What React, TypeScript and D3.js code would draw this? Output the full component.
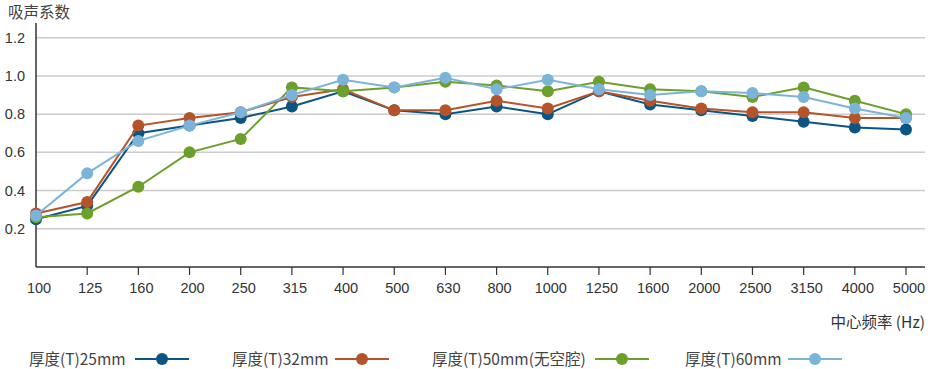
import React from "react";
import * as d3 from "d3";

const categories = ["100","125","160","200","250","315","400","500","630","800","1000","1250","1600","2000","2500","3150","4000","5000"];
const s25 = [0.25,0.32,0.70,0.74,0.78,0.84,0.92,0.82,0.80,0.84,0.80,0.92,0.85,0.82,0.79,0.76,0.73,0.72];
const s32 = [0.28,0.34,0.74,0.78,0.81,0.89,0.93,0.82,0.82,0.87,0.83,0.92,0.87,0.83,0.81,0.81,0.78,0.78];
const s50 = [0.26,0.28,0.42,0.60,0.67,0.94,0.92,0.94,0.97,0.95,0.92,0.97,0.93,0.92,0.89,0.94,0.87,0.80];
const s60 = [0.27,0.49,0.66,0.74,0.81,0.90,0.98,0.94,0.99,0.93,0.98,0.93,0.90,0.92,0.91,0.89,0.83,0.78];
const yTicks = [0.2,0.4,0.6,0.8,1.0,1.2];
const seriesNames = ["厚度(T)25mm","厚度(T)32mm","厚度(T)50mm(无空腔)","厚度(T)60mm"];
const colors = ["#0b5583","#b5532b","#6c9f2b","#7cb4d9"];
const seriesData = [s25, s32, s50, s60];

export default function App() {
  const W = 937, H = 369;
  const x0 = 36, x1 = 906, yTop = 37.7, yBot = 267;
  const x = d3.scalePoint<string>().domain(categories).range([x0, x1]);
  const y = d3.scaleLinear().domain([0, 1.2]).range([yBot, yTop]);
  const line = d3.line<number>().x((_, i) => x(categories[i])!).y(d => y(d));
  const numFont = "'Liberation Sans', Arial, sans-serif";
  const cjkFont = "'Noto Sans CJK SC', 'Noto Sans', sans-serif";
  const legendItems = [
    { tx: 29, lx: 135 },
    { tx: 232, lx: 335 },
    { tx: 432, lx: 595 },
    { tx: 685, lx: 788 },
  ];
  return (
    <svg width={W} height={H} style={{ position: "absolute", left: 0, top: 0, background: "#fff" }}>
      <text x={8} y={17.5} fontFamily={cjkFont} fontSize={15.5} fill="#444">吸声系数</text>
      {yTicks.map(t => (
        <g key={t}>
          <line x1={x0} x2={925} y1={y(t)} y2={y(t)} stroke="#cccccc" strokeWidth={1.5} />
          <text x={25} y={y(t)} textAnchor="end" dominantBaseline="central" fontFamily={numFont} fontSize={14.5} fill="#333">{t.toFixed(1)}</text>
        </g>
      ))}
      <line x1={x0} x2={x0} y1={23} y2={yBot} stroke="#333" strokeWidth={1.5} />
      <line x1={x0} x2={925} y1={yBot} y2={yBot} stroke="#333" strokeWidth={1.5} />
      {categories.map((c, i) => (
        <g key={c}>
          {i > 0 && <line x1={x(c)} x2={x(c)} y1={yBot} y2={275} stroke="#333" strokeWidth={1.2} />}
          <text x={x(c)! + 3} y={293} textAnchor="middle" fontFamily={numFont} fontSize={14.5} fill="#333">{c}</text>
        </g>
      ))}
      <text x={925} y={328} textAnchor="end" fontFamily={cjkFont} fontSize={15.5} fill="#333">中心频率 (Hz)</text>
      {seriesData.map((s, k) => (
        <g key={k}>
          <path d={line(s)!} fill="none" stroke={colors[k]} strokeWidth={2} />
          {s.map((v, i) => (
            <circle key={i} cx={x(categories[i])} cy={y(v)} r={6} fill={colors[k]} />
          ))}
        </g>
      ))}
      {legendItems.map((it, k) => (
        <g key={k}>
          <text x={it.tx} y={364.5} fontFamily={cjkFont} fontSize={15.5} fill="#444">{seriesNames[k]}</text>
          <line x1={it.lx} x2={it.lx + 54} y1={359} y2={359} stroke={colors[k]} strokeWidth={2} />
          <circle cx={it.lx + 27} cy={359} r={6} fill={colors[k]} />
        </g>
      ))}
    </svg>
  );
}
